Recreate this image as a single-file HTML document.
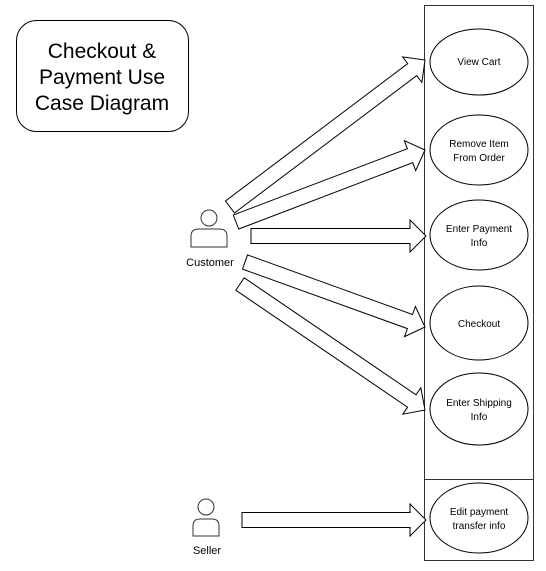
<!DOCTYPE html>
<html><head><style>
html,body{margin:0;padding:0;background:#fff;}
svg{display:block;}
text{font-family:"Liberation Sans",sans-serif;fill:#000;}
</style></head><body>
<svg id="s" width="546" height="571" viewBox="0 0 546 571" xmlns="http://www.w3.org/2000/svg">
<rect x="16.5" y="20.5" width="172" height="111" rx="20" fill="#fff" stroke="#000" stroke-width="1"/>
<text x="102" y="58" font-size="21" text-anchor="middle">Checkout &amp;</text>
<text x="102" y="84" font-size="21" text-anchor="middle">Payment Use</text>
<text x="102" y="110" font-size="21" text-anchor="middle">Case Diagram</text>

<rect x="424.5" y="5.5" width="109" height="555" fill="#fff" stroke="#333"/>
<line x1="424.5" y1="479.5" x2="533.5" y2="479.5" stroke="#333"/>

<g fill="#fff" stroke="#000" stroke-width="1">
<ellipse cx="479" cy="62" rx="49" ry="33"/>
<ellipse cx="479" cy="150" rx="49" ry="35"/>
<ellipse cx="479" cy="235" rx="49" ry="35"/>
<ellipse cx="479" cy="323" rx="49" ry="37"/>
<ellipse cx="479" cy="409" rx="49" ry="36"/>
<ellipse cx="479" cy="518" rx="49" ry="35"/>
</g>
<g font-size="10" text-anchor="middle">
<text x="479" y="65">View Cart</text>
<text x="479" y="147">Remove Item</text><text x="479" y="161">From Order</text>
<text x="479" y="232">Enter Payment</text><text x="479" y="246">Info</text>
<text x="479" y="327">Checkout</text>
<text x="479" y="406">Enter Shipping</text><text x="479" y="420">Info</text>
<text x="479" y="515">Edit payment</text><text x="479" y="529">transfer info</text>
</g>

<g fill="#fff" stroke="#333" stroke-width="1">
<circle cx="209" cy="218" r="8"/>
<path d="M191 247 V236 Q191 229 199 229 H219 Q227 229 227 236 V247 Z"/>
<circle cx="206" cy="507" r="8"/>
<path d="M193 536 V526 Q193 519 200 519 H212 Q219 519 219 526 V536 Z"/>
</g>
<text x="210" y="266" font-size="11" text-anchor="middle">Customer</text>
<text x="207" y="554" font-size="11" text-anchor="middle">Seller</text>
<g id="arrows" fill="#fff" stroke="#000" stroke-width="1"></g>
</svg>
<script>
var arr=[[230,207,425,60],[236,222,425,150],[251,236,426,236],[245,262,425,327],[240,284,425,410],[242,520,426,520]];
var g=document.getElementById('arrows');
arr.forEach(function(a){
 var x1=a[0],y1=a[1],x2=a[2],y2=a[3];
 var dx=x2-x1,dy=y2-y1,L=Math.hypot(dx,dy),ux=dx/L,uy=dy/L,nx=-uy,ny=ux;
 var w=7.5,hw=16,hl=16;
 var bx=x2-ux*hl,by=y2-uy*hl;
 var p=[[x1+nx*w,y1+ny*w],[bx+nx*w,by+ny*w],[bx+nx*hw,by+ny*hw],[x2,y2],[bx-nx*hw,by-ny*hw],[bx-nx*w,by-ny*w],[x1-nx*w,y1-ny*w]];
 var e=document.createElementNS('http://www.w3.org/2000/svg','polygon');
 e.setAttribute('points',p.map(function(q){return q[0].toFixed(1)+','+q[1].toFixed(1)}).join(' '));
 g.appendChild(e);
});
</script>
</body></html>
